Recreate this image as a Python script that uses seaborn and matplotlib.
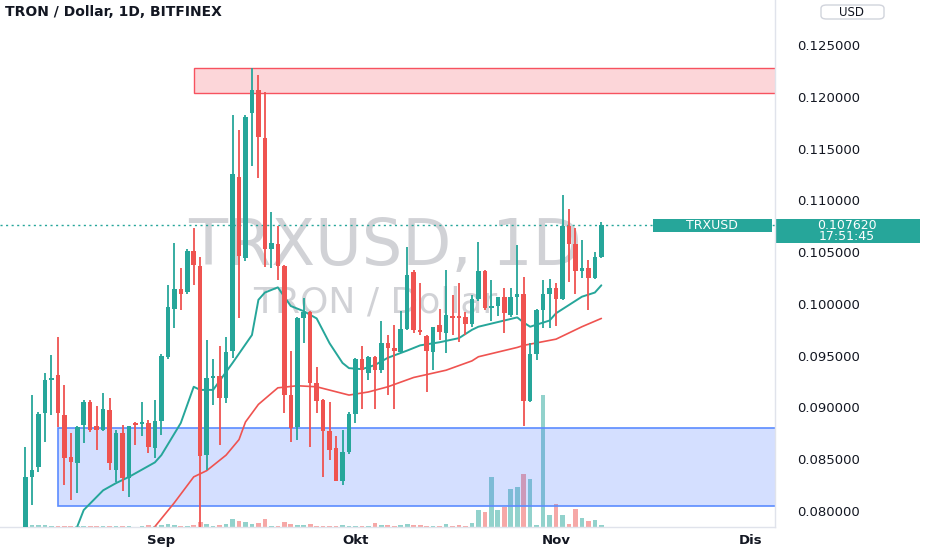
import numpy as np
import pandas as pd
import matplotlib
matplotlib.use("Agg")
import matplotlib.pyplot as plt
import seaborn as sns
from matplotlib.patches import Rectangle, FancyBboxPatch

# ---------------- data ----------------
start_date = "2021-08-11"
opens = [0.0782, 0.0833, 0.0843, 0.0895, 0.0927, 0.0931, 0.0893, 0.0852, 0.0846, 0.0883,
         0.0905, 0.0882, 0.0878, 0.0898, 0.0840, 0.0875, 0.0832, 0.0885, 0.0884, 0.0885,
         0.0861, 0.0887, 0.0949, 0.0995, 0.1014, 0.1012, 0.1051, 0.1037, 0.0854, 0.0928,
         0.0930, 0.0909, 0.0955, 0.1123, 0.1044, 0.1184, 0.1207, 0.1160, 0.1053, 0.1058,
         0.1037, 0.0912, 0.0881, 0.0986, 0.0992, 0.0924, 0.0907, 0.0877, 0.0861, 0.0829,
         0.0857, 0.0894, 0.0947, 0.0933, 0.0949, 0.0936, 0.0962, 0.0957, 0.0954, 0.0976,
         0.1031, 0.0975, 0.0969, 0.0954, 0.0980, 0.0972, 0.0988, 0.0988, 0.0987, 0.0981,
         0.1005, 0.1032, 0.0996, 0.0998, 0.1007, 0.0989, 0.1007, 0.1010, 0.0906, 0.0952,
         0.0994, 0.1010, 0.1015, 0.1005, 0.1075, 0.1058, 0.1032, 0.1035, 0.1025, 0.1045]
highs = [0.0862, 0.0912, 0.0896, 0.0933, 0.0951, 0.0968, 0.0922, 0.0875, 0.0882, 0.0907,
         0.0907, 0.0901, 0.0914, 0.0909, 0.0878, 0.0883, 0.0882, 0.0886, 0.0905, 0.0888,
         0.0907, 0.0952, 0.1018, 0.1059, 0.1035, 0.1053, 0.1073, 0.1045, 0.0965, 0.0947,
         0.0959, 0.0968, 0.1182, 0.1168, 0.1182, 0.1228, 0.1221, 0.1205, 0.1089, 0.1075,
         0.1038, 0.0955, 0.0987, 0.1006, 0.0993, 0.0939, 0.0908, 0.0905, 0.0872, 0.0878,
         0.0896, 0.0948, 0.0959, 0.0950, 0.0950, 0.0984, 0.0970, 0.0980, 0.0993, 0.1055,
         0.1033, 0.1020, 0.0970, 0.0978, 0.0995, 0.1033, 0.1009, 0.1020, 0.0992, 0.1009,
         0.1060, 0.1033, 0.1023, 0.1007, 0.1015, 0.1015, 0.1057, 0.1026, 0.0962, 0.0995,
         0.1023, 0.1024, 0.1020, 0.1105, 0.1092, 0.1073, 0.1062, 0.1042, 0.1050, 0.1079]
lows = [0.0780, 0.0806, 0.0838, 0.0867, 0.0893, 0.0881, 0.0825, 0.0811, 0.0817, 0.0866,
        0.0876, 0.0859, 0.0877, 0.0840, 0.0828, 0.0819, 0.0814, 0.0864, 0.0872, 0.0856,
        0.0851, 0.0873, 0.0947, 0.0977, 0.0994, 0.1010, 0.1018, 0.0780, 0.0840, 0.0902,
        0.0864, 0.0904, 0.0948, 0.0986, 0.1041, 0.1133, 0.1122, 0.1036, 0.1035, 0.1023,
        0.0895, 0.0867, 0.0869, 0.0962, 0.0862, 0.0895, 0.0833, 0.0849, 0.0829, 0.0825,
        0.0855, 0.0885, 0.0899, 0.0927, 0.0899, 0.0933, 0.0912, 0.0899, 0.0953, 0.0975,
        0.0972, 0.0970, 0.0915, 0.0936, 0.0965, 0.0953, 0.0970, 0.0963, 0.0970, 0.0978,
        0.1003, 0.0994, 0.0984, 0.0988, 0.0972, 0.0987, 0.0989, 0.0882, 0.0905, 0.0946,
        0.0977, 0.0977, 0.0979, 0.1004, 0.1021, 0.1010, 0.1025, 0.0994, 0.1024, 0.1044]
closes = [0.0833, 0.0840, 0.0894, 0.0927, 0.0928, 0.0895, 0.0851, 0.0847, 0.0881, 0.0905,
          0.0878, 0.0878, 0.0899, 0.0846, 0.0875, 0.0832, 0.0882, 0.0883, 0.0886, 0.0862,
          0.0887, 0.0950, 0.0997, 0.1014, 0.1010, 0.1051, 0.1038, 0.0853, 0.0928, 0.0930,
          0.0909, 0.0954, 0.1125, 0.1046, 0.1181, 0.1207, 0.1161, 0.1053, 0.1059, 0.1037,
          0.0912, 0.0880, 0.0986, 0.0992, 0.0924, 0.0906, 0.0877, 0.0859, 0.0829, 0.0857,
          0.0894, 0.0947, 0.0936, 0.0949, 0.0936, 0.0962, 0.0957, 0.0955, 0.0976, 0.1028,
          0.0975, 0.0973, 0.0955, 0.0978, 0.0973, 0.0989, 0.0986, 0.0986, 0.0981, 0.1005,
          0.1032, 0.0996, 0.0998, 0.1007, 0.0991, 0.1007, 0.1010, 0.0906, 0.0952, 0.0994,
          0.1010, 0.1015, 0.1005, 0.1075, 0.1058, 0.1032, 0.1035, 0.1025, 0.1045, 0.10762]
volumes = [2, 2, 2, 2, 1.3, 1.3, 1.3, 1.3, 1, 1,
           1, 1, 1.3, 1, 1, 1.3, 1, 0.5, 1, 1.7,
           1.5, 2, 2.7, 2, 1, 1, 1.7, 5, 2.7, 1,
           1.7, 2.7, 7.7, 6, 5, 3.3, 4.3, 7.7, 1, 1,
           5, 3.3, 1.7, 1.7, 3.3, 1, 1, 1, 1, 1.7,
           0.7, 1, 1, 1, 3.7, 1.7, 1.7, 1, 1.7, 2.7,
           1.7, 2, 1, 1, 1, 2.7, 1, 1.7, 1, 3.7,
           17, 15, 50, 16.7, 20, 38, 40, 52.7, 47.7, 1.7,
           131.7, 12.3, 22.7, 11.7, 2.7, 18.3, 9.3, 6, 7.3, 2]

# moving averages as drawn on the chart (day offset, value)
ma_fast_day = [8, 9, 12, 14, 16, 20, 21, 24, 26, 27, 29, 32, 35, 36, 37, 39, 40, 41, 43, 45,
               47, 49, 50, 52, 54, 56, 59, 61, 64, 67, 69, 70, 76, 77, 78, 81, 82, 84, 86, 88, 89]
ma_fast_val = [0.0785, 0.0801, 0.0820, 0.0827, 0.0833, 0.0847, 0.0854, 0.0885, 0.0920, 0.0917,
               0.0917, 0.0943, 0.0970, 0.1004, 0.1011, 0.1016, 0.1007, 0.0998, 0.0993, 0.0986,
               0.0962, 0.0943, 0.0938, 0.0937, 0.0941, 0.0948, 0.0955, 0.0960, 0.0963, 0.0967,
               0.0975, 0.0978, 0.0987, 0.0982, 0.0978, 0.0984, 0.0991, 0.0999, 0.1007, 0.1011,
               0.1018]
ma_slow_day = [19, 20, 23, 26, 28, 31, 33, 34, 36, 39, 42, 45, 50, 53, 56, 60, 65, 69, 70,
               76, 77, 82, 86, 89]
ma_slow_val = [0.0778, 0.0785, 0.0808, 0.0833, 0.0839, 0.0854, 0.0869, 0.0886, 0.0903, 0.0919,
               0.0921, 0.0920, 0.0912, 0.0915, 0.0920, 0.0929, 0.0936, 0.0945, 0.0949, 0.0958,
               0.0960, 0.0966, 0.0978, 0.0986]

supply_zone = (0.12036, 0.12280)
supply_start_day = 26
demand_zone = (0.08049, 0.08802)
demand_start_day = 5

month_labels = ["Sep", "Okt", "Nov", "Dis"]
month_starts = ["2021-09-01", "2021-10-01", "2021-11-01", "2021-12-01"]
price_ticks = [0.080, 0.085, 0.090, 0.095, 0.100, 0.105, 0.110, 0.115, 0.120, 0.125]
symbol = "TRXUSD"
title = "TRON / Dollar, 1D, BITFINEX"
countdown = "17:51:45"

# ---------------- styling ----------------
sns.set_theme(style="white")
plt.rcParams["font.family"] = ["DejaVu Sans"]

UP = "#26a69a"
DOWN = "#ef5350"
W, H = 932, 550
fig = plt.figure(figsize=(W / 100, H / 100), dpi=100)
fig.patch.set_facecolor("white")

plot_right_px = 775
plot_bottom_px = 527
rect = [0, (H - plot_bottom_px) / H, plot_right_px / W, plot_bottom_px / H]
ax_vol = fig.add_axes(rect, zorder=0)
ax = fig.add_axes(rect, zorder=1)
ax.patch.set_alpha(0)

n = len(opens)
dates = pd.date_range(start_date, periods=n, freq="D")
x = np.array([(d - dates[0]).days for d in dates])
o = np.array(opens); h = np.array(highs); l = np.array(lows); c = np.array(closes)
up = c >= o
colors = np.where(up, UP, DOWN)

xlim = (-3.94, 115.84)
ylim = (0.07846, 0.12935)

# volume
vol_colors = [(0.149, 0.651, 0.604, 0.5) if u else (0.937, 0.325, 0.314, 0.5) for u in up]
ax_vol.bar(x, volumes, width=0.72, color=vol_colors, linewidth=0)
ax_vol.set_xlim(*xlim)
ax_vol.set_ylim(0, 527)
ax_vol.axis("off")

# zones
ax.add_patch(Rectangle((supply_start_day, supply_zone[0]), 200, supply_zone[1] - supply_zone[0],
                       facecolor=(0.95, 0.21, 0.27, 0.2), edgecolor="#f7525f", linewidth=1.0, zorder=1))
ax.add_patch(Rectangle((demand_start_day, demand_zone[0]), 200, demand_zone[1] - demand_zone[0],
                       facecolor=(0.16, 0.38, 1.0, 0.2), edgecolor="#5b8cff", linewidth=1.2, zorder=1))

# watermark
ax.text(0.497, 1 - 265 / 527, f"{symbol}, 1D", transform=ax.transAxes, ha="center", va="baseline",
        fontsize=46, color="#c9cacf", alpha=0.85, zorder=0.5)
ax.text(0.484, 1 - 313 / 527, "TRON / Dollar", transform=ax.transAxes, ha="center", va="baseline",
        fontsize=26, color="#c9cacf", alpha=0.85, zorder=0.5)

# candles
ax.vlines(x, l, h, colors=colors, linewidth=1.3, zorder=3)
body_lo = np.minimum(o, c)
body_h = np.maximum(np.abs(c - o), 0.00008)
ax.bar(x, body_h, bottom=body_lo, width=0.7, color=colors, linewidth=0, zorder=4)

# moving averages
sns.lineplot(x=ma_fast_day, y=ma_fast_val, ax=ax, color=UP, linewidth=1.4, zorder=2)
sns.lineplot(x=ma_slow_day, y=ma_slow_val, ax=ax, color=DOWN, linewidth=1.2, zorder=2)

# last price line
ax.axhline(closes[-1], color=UP, linestyle=(0, (1.5, 2.5)), linewidth=1, zorder=2)

ax.set_xlim(*xlim)
ax.set_ylim(*ylim)
ax.set_xlabel("")
ax.set_ylabel("")

# x ticks
ms = [(pd.Timestamp(m) - dates[0]).days for m in month_starts]
ax.set_xticks(ms)
ax.set_xticklabels(month_labels, fontsize=9.5, fontweight="semibold", color="#131722")
ax.tick_params(axis="x", length=0, pad=5)

# y ticks on the right
ax.yaxis.tick_right()
ax.set_yticks(price_ticks)
ax.set_yticklabels([f"{v:.6f}" for v in price_ticks], fontsize=9.5, color="#131722")
ax.tick_params(axis="y", length=0, pad=16)

for s in ["top", "left"]:
    ax.spines[s].set_visible(False)
for s in ["right", "bottom"]:
    ax.spines[s].set_visible(True)
    ax.spines[s].set_color("#e0e3eb")
    ax.spines[s].set_linewidth(1)

# title
fig.text(5 / W, 1 - 12 / H, title, fontsize=10, fontweight="bold", color="#131722",
         ha="left", va="center")

# USD box
fig.add_artist(FancyBboxPatch((821 / W, 1 - 19 / H), 63 / W, 14 / H,
                              boxstyle="round,pad=0,rounding_size=0.006",
                              transform=fig.transFigure, facecolor="white",
                              edgecolor="#d1d4dc", linewidth=1))
fig.text(852 / W, 1 - 12 / H, "USD", fontsize=8.5, color="#131722", ha="center", va="center")

# symbol & price label boxes
fig.add_artist(Rectangle((653 / W, 1 - 232 / H), 119 / W, 13 / H, transform=fig.transFigure,
                         facecolor=UP, edgecolor="none"))
fig.text(712 / W, 1 - 225.5 / H, symbol, fontsize=9, color="white", ha="center", va="center")
fig.add_artist(Rectangle((775 / W, 1 - 243 / H), 145 / W, 24 / H, transform=fig.transFigure,
                         facecolor=UP, edgecolor="none"))
fig.text(847 / W, 1 - 225 / H, f"{closes[-1]:.6f}", fontsize=9, color="white", ha="center", va="center")
fig.text(847 / W, 1 - 237 / H, countdown, fontsize=9, color="white", ha="center", va="center")

fig.savefig("out.png", dpi=100, facecolor="white")
